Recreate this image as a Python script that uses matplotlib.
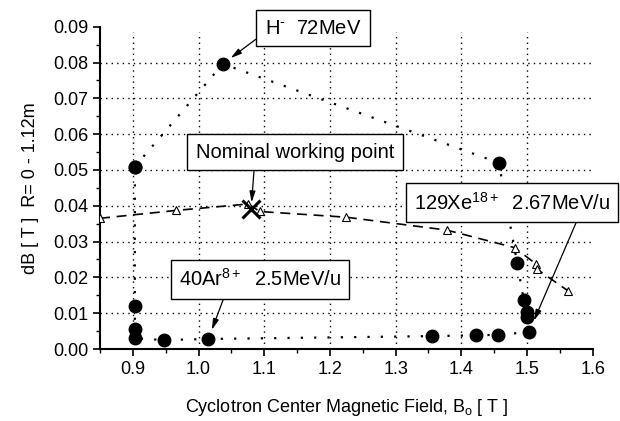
import numpy as np
import matplotlib
matplotlib.use("Agg")
import matplotlib.pyplot as plt
from matplotlib.ticker import MultipleLocator, FormatStrFormatter

plt.rcParams['font.family'] = ['Liberation Sans', 'DejaVu Sans']
plt.rcParams['mathtext.fontset'] = 'custom'
plt.rcParams['mathtext.rm'] = 'Liberation Sans'
plt.rcParams['mathtext.it'] = 'Liberation Sans'
plt.rcParams['mathtext.default'] = 'regular'

# isochronous field error for the operating points (closed loop)
b_ops = [0.903, 1.037, 1.457, 1.485, 1.495, 1.4995, 1.500, 1.503, 1.456,
         1.423, 1.355, 1.015, 0.947, 0.903, 0.903, 0.903, 0.903]
db_ops = [0.0509, 0.0796, 0.0520, 0.0240, 0.0137, 0.0103, 0.0090, 0.0047,
          0.0040, 0.0038, 0.0036, 0.0028, 0.0025, 0.0030, 0.0055, 0.0121, 0.0509]

# trim-coil correction curve
b_trim = [0.850, 0.966, 1.076, 1.093, 1.225, 1.378, 1.481, 1.514, 1.515, 1.562]
db_trim = [0.0365, 0.0387, 0.0405, 0.0384, 0.0368, 0.0332, 0.0283, 0.0237,
           0.0223, 0.0163]

b_nominal = 1.080
db_nominal = 0.0390

fig = plt.figure(figsize=(6.2, 4.21), dpi=100)
ax = fig.add_axes([0.1613, 0.171, 0.7947, 0.7656])

# dotted grid inside the frame
for y in np.arange(0.01, 0.085, 0.01):
    ax.axhline(y, color='black', lw=1.0, ls=(0, (1, 3)), zorder=0)
for x in np.arange(0.9, 1.55, 0.1):
    ax.axvline(x, ymax=0.985, color='black', lw=1.0, ls=(0, (1, 3)), zorder=0)

ax.plot(b_trim, db_trim, color='black', lw=1.2, ls=(0, (6, 4)),
        marker='^', ms=6, mfc='white', mec='black', mew=0.8, zorder=3)
ax.plot(b_ops, db_ops, color='black', lw=1.6, ls=(0, (1, 5)),
        marker='o', ms=9, mfc='black', mec='black', zorder=4)
ax.plot([b_nominal], [db_nominal], marker='x', ms=13, mew=2.2,
        color='black', ls='none', zorder=5)

box = dict(boxstyle='square,pad=0.42', fc='white', ec='black', lw=1.0)


def label(text, xy, xytext, relpos, shrink):
    ax.annotate(text, xy=xy, xytext=xytext, textcoords='data',
                fontsize=14.5, ha='center', va='center', bbox=box,
                annotation_clip=False, zorder=6,
                arrowprops=dict(arrowstyle='-|>,head_length=0.45,head_width=0.12',
                                color='black', lw=0.9, relpos=relpos,
                                shrinkA=0, shrinkB=shrink))


label(r'H$^{\text{-}}$  72MeV', (b_ops[1], db_ops[1]), (1.174, 0.0896), (0.0, 0.26), 7)
label('Nominal working point', (b_nominal, db_nominal), (1.147, 0.0549), (0.296, 0.0), 5)
label('129Xe$^{18+}$  2.67MeV/u', (b_ops[7], db_ops[7]), (1.477, 0.0408), (0.847, 0.0), 9)
label('40Ar$^{8+}$  2.5MeV/u', (b_ops[11], db_ops[11]), (1.0935, 0.0195), (0.295, 0.0), 7)

ax.set_xlim(0.85, 1.6)
ax.set_ylim(0.0, 0.09)
ax.xaxis.set_major_locator(MultipleLocator(0.1))
ax.xaxis.set_minor_locator(MultipleLocator(0.05))
ax.yaxis.set_major_locator(MultipleLocator(0.01))
ax.yaxis.set_minor_locator(MultipleLocator(0.005))
ax.xaxis.set_major_formatter(FormatStrFormatter('%.1f'))
ax.yaxis.set_major_formatter(FormatStrFormatter('%.2f'))
ax.tick_params(which='major', direction='out', length=5, width=1.2, labelsize=13)
ax.tick_params(which='minor', direction='out', length=3, width=1.0)
for side in ('top', 'right'):
    ax.spines[side].set_visible(False)
for side in ('left', 'bottom'):
    ax.spines[side].set_linewidth(1.5)

ax.set_xlabel('Cyclotron Center Magnetic Field, B$_o$ [ T ]', fontsize=13, labelpad=14)
ax.set_ylabel('dB [ T ]  R= 0 - 1.12m', fontsize=13, labelpad=10)

fig.savefig('out.png', dpi=100)
